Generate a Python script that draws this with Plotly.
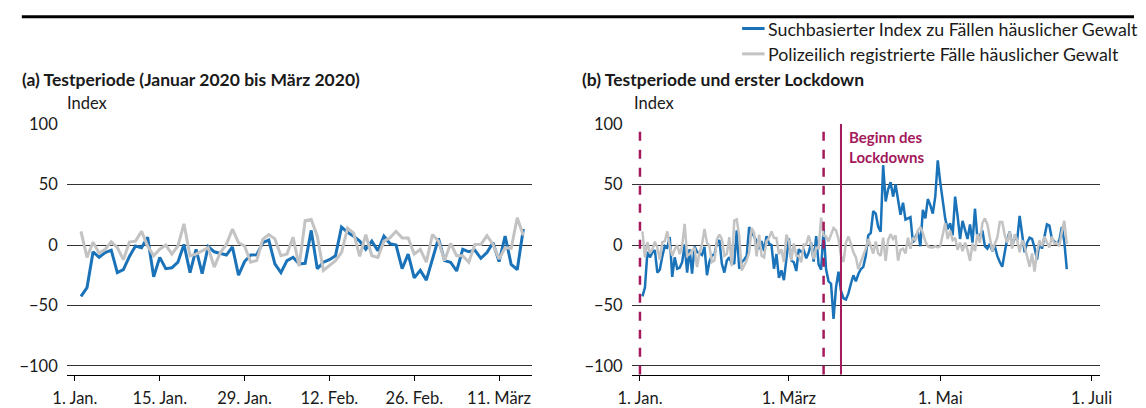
import plotly.graph_objects as go
import pandas as pd

W, H = 1146, 408

# ---- data (index values, daily, starting 2 Jan 2020) ----
search_test = [-42.5, -35.2, -5.6, -10.2, -6.2, -4.3, -22.8, -20.4, -9.4, -0.8,
               -2.2, 6.5, -26.3, -10.2, -19.6, -18.8, -14.2, 0.5, -22.8, -3.5,
               -23.7, -1.3, -5.6, -6.7, -8.3, -1.6, -25.0, -13.7, -8.3, -8.1,
               1.9, 4.0, -15.6, -22.8, -12.9, -10.2, -15.6, -15.1, 12.1, -19.6,
               -14.2, -12.1, -8.9, 14.8, 10.5, 7.3, 3.2, -3.5, 3.2, -4.8,
               7.3, 1.1, 0.0, -19.6, -7.5, -27.2, -21.0, -29.0, -11.6, 5.4,
               -12.9, -14.2, -21.5, -3.5, -5.6, -4.3, -11.0, -6.2, 1.9, -13.7,
               7.3, -16.1, -20.4, 13.2]
police_test = [11.3, -10.2, 2.4, -6.7, -3.5, 2.7, -2.2, -12.1, 2.4, 3.2,
               11.3, -0.8, -8.9, -3.5, 0.0, -7.5, -0.8, 17.5, -8.9, -7.5,
               -4.8, -2.2, -18.3, -6.2, 0.5, 13.2, 1.9, -0.8, -14.2, -12.9,
               4.6, 8.6, 5.1, -8.9, -7.5, 6.5, -17.5, 20.2, 21.2, 7.3,
               -21.0, -16.9, -12.9, -6.2, 14.0, 9.9, -9.4, 8.6, -8.9, -10.2,
               3.2, 5.9, 11.3, 5.9, 5.9, -7.5, -3.5, -14.2, 8.6, 3.2,
               -12.9, 1.3, -8.9, -8.9, -14.2, 0.5, 0.5, 7.8, 0.5, -11.6,
               -2.2, -2.7, 22.6, 7.8]
search_lock = [-20, -30, -32, -61, -35, -22, -38, -44, -45, -40,
               -32, -25, -30, -24, -20, -18, -9, 8, 10, 28,
               26, 15, 11, 66, 36, 46, 52, 40, 50, 36,
               25, 35, 21, 22, 23, 2, 6, 11, -1, 29,
               22, 38, 33, 26, 40, 70, 52, 38, 22, 13,
               18, 8, 40, 24, 5, 20, 12, 5, 17, 2,
               30, 5, 8, 12, -1, -3, 1, -5, -1, -9,
               -14, -18, -6, 5, 11, -1, 7, 4, 24, 8,
               -6, 2, 6, 5, -2, -12, 2, -3, 6, 17,
               16, 5, 3, 1, 4, 15, 3, -20]
police_lock = [7, 3, 9, 14, 12, 5, -9, -14, 2, 7,
               1, -6, -10, -20, -14, -9, -3, 5, -1, -7,
               3, -7, -9, 6, -13, 4, 9, 5, 8, -13,
               -4, -3, -7, 6, -3, 6, 4, 12, 15, 10,
               3, -1, -2, -2, -1, -2, -1, 10, 18, 5,
               12, 4, 6, -4, 2, -5, 2, -4, -13, 1,
               -5, 9, 2, 18, 22, 17, 5, -5, 1, 6,
               19, 19, 8, 2, 11, -3, 9, 4, -6, 4,
               -1, -9, -18, -7, -22, -6, 4, -1, 7, 2,
               -2, 7, 1, 2, -1, 11, 20, 1]

series_names = ["Suchbasierter Index zu Fällen häuslicher Gewalt",
                "Polizeilich registrierte Fälle häuslicher Gewalt"]
ticks_a = ["2020-01-01", "2020-01-15", "2020-01-29", "2020-02-12", "2020-02-26", "2020-03-11"]
ticktext_a = ["1. Jan.", "15. Jan.", "29. Jan.", "12. Feb.", "26. Feb.", "11. März"]
ticks_b = ["2020-01-01", "2020-03-01", "2020-05-01", "2020-07-01"]
ticktext_b = ["1. Jan.", "1. März", "1. Mai", "1. Juli"]
test_start, test_end, lockdown = "2020-01-01", "2020-03-15", "2020-03-22"

BLUE = "#1a72b8"
GREY = "#c3c3c3"
MAG = "#a3195b"
TXT = "#1a1a1a"
FONT = "Lato"

start = pd.Timestamp("2020-01-02")
dates_test = pd.date_range(start, periods=len(search_test), freq="D")
dates_full = pd.date_range(start, periods=len(search_test) + len(search_lock), freq="D")
search_full = search_test + search_lock
police_full = police_test + police_lock


def px(x):
    return x / W


def py(y):
    return 1 - y / H


fig = go.Figure()
fig.add_trace(go.Scatter(x=dates_test, y=search_test, mode="lines", name=series_names[0],
                         line=dict(color=BLUE, width=3), xaxis="x", yaxis="y", showlegend=False))
fig.add_trace(go.Scatter(x=dates_test, y=police_test, mode="lines", name=series_names[1],
                         line=dict(color=GREY, width=3), xaxis="x", yaxis="y", showlegend=False))
fig.add_trace(go.Scatter(x=dates_full, y=search_full, mode="lines", name=series_names[0],
                         line=dict(color=BLUE, width=2.5), xaxis="x2", yaxis="y2", showlegend=False))
fig.add_trace(go.Scatter(x=dates_full, y=police_full, mode="lines", name=series_names[1],
                         line=dict(color=GREY, width=2.5), xaxis="x2", yaxis="y2", showlegend=False))

jan1 = pd.Timestamp("2020-01-01")
ya_range = [-107.3, 100.76]
ydom = [py(375), py(117)]

xcommon = dict(type="date", showgrid=False, showline=True, linecolor="#000", linewidth=1,
               ticks="outside", ticklen=5, tickcolor="#000", tickwidth=1,
               tickfont=dict(family=FONT, size=16.5, color=TXT), ticklabelstandoff=3,
               zeroline=False, fixedrange=True)
ycommon = dict(range=ya_range, tickvals=[-100, -50, 0, 50, 100], showgrid=True,
               gridcolor="#333", gridwidth=1, zeroline=False, showline=False, ticks="",
               tickfont=dict(family=FONT, size=16.5, color=TXT), ticklabelstandoff=8,
               domain=ydom, fixedrange=True)

fig.update_layout(
    width=W, height=H, margin=dict(l=0, r=0, t=0, b=0),
    paper_bgcolor="white", plot_bgcolor="white", showlegend=False,
    xaxis=dict(xcommon, domain=[px(54), px(530)],
               range=[jan1 - pd.Timedelta(days=1.34), jan1 + pd.Timedelta(days=75.43)],
               tickvals=ticks_a, ticktext=ticktext_a, anchor="y"),
    yaxis=dict(ycommon, anchor="x"),
    xaxis2=dict(xcommon, domain=[px(632), px(1111.5)],
                range=[jan1 - pd.Timedelta(days=3.35), jan1 + pd.Timedelta(days=185.5)],
                tickvals=ticks_b, ticktext=ticktext_b, anchor="y2"),
    yaxis2=dict(ycommon, anchor="x2"),
)

shapes = []
# top rule
shapes.append(dict(type="line", xref="paper", yref="paper", x0=px(8), x1=1, y0=py(8), y1=py(8),
                   line=dict(color="#000", width=3)))
# period markers (test period start/end, lockdown start)
for xd, dash, wdt in [(test_start, "dash", 2.5), (test_end, "dash", 2.5), (lockdown, "solid", 2)]:
    shapes.append(dict(type="line", xref="x2", yref="y2", x0=xd, x1=xd, y0=ya_range[0], y1=100,
                       line=dict(color=MAG, width=wdt, dash=dash), layer="above"))
# legend samples
for yy, col in [(20, BLUE), (46, GREY)]:
    shapes.append(dict(type="line", xref="paper", yref="paper", x0=px(745), x1=px(768),
                       y0=py(yy), y1=py(yy), line=dict(color=col, width=3)))
fig.update_layout(shapes=shapes)

ann = []
for yy, name in [(20, series_names[0]), (46, series_names[1])]:
    ann.append(dict(text=name, xref="paper", yref="paper", x=px(769), y=py(yy),
                    xanchor="left", yanchor="middle", showarrow=False,
                    font=dict(family=FONT, size=17.8, color=TXT)))
ann.append(dict(text="<b>(a) Testperiode (Januar 2020 bis März 2020)</b>", xref="paper", yref="paper",
                x=px(6), y=py(72), xanchor="left", yanchor="middle", showarrow=False,
                font=dict(family=FONT, size=17.5, color=TXT)))
ann.append(dict(text="<b>(b) Testperiode und erster Lockdown</b>", xref="paper", yref="paper",
                x=px(579), y=py(72), xanchor="left", yanchor="middle", showarrow=False,
                font=dict(family=FONT, size=17.5, color=TXT)))
for xx in [52, 632]:
    ann.append(dict(text="Index", xref="paper", yref="paper", x=px(xx), y=py(96),
                    xanchor="left", yanchor="middle", showarrow=False,
                    font=dict(family=FONT, size=16.5, color=TXT)))
ann.append(dict(text="<b>Beginn des<br>Lockdowns</b>", xref="x2", yref="paper",
                x=lockdown, xshift=6, y=py(120), xanchor="left", yanchor="top", align="left",
                showarrow=False, font=dict(family=FONT, size=15, color=MAG)))
fig.update_layout(annotations=ann)

fig.write_html("out.html", config={"displayModeBar": False},
               post_script="document.body.style.margin='0';document.body.style.overflow='hidden';")
